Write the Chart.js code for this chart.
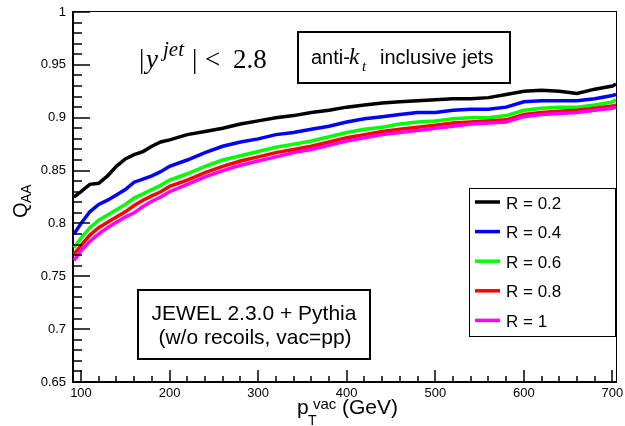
<!DOCTYPE html>
<html>
<head>
<meta charset="utf-8">
<script src="https://cdn.jsdelivr.net/npm/chart.js@4.4.1/dist/chart.umd.min.js"></script>
<style>
  html, body { margin: 0; padding: 0; background: #fff; }
  canvas { display: block; }
</style>
</head>
<body>
<canvas id="qaaChart" width="625" height="426"></canvas>
<script>
// pT^vac bin positions (GeV)
const ptBins = [92, 100, 110, 120, 130, 140, 150, 160, 170, 180, 190, 200,
  220, 240, 260, 280, 300, 320, 340, 360, 380, 400, 420, 440, 460, 480, 500,
  520, 540, 560, 580, 600, 620, 640, 660, 680, 700, 704];

// Q_AA per jet radius
const qR02 = [0.825, 0.830, 0.837, 0.838, 0.845, 0.854, 0.861, 0.865, 0.868, 0.873, 0.877, 0.879,
  0.884, 0.887, 0.890, 0.894, 0.897, 0.900, 0.902, 0.905, 0.907, 0.910, 0.912, 0.914, 0.915, 0.916, 0.917,
  0.918, 0.918, 0.919, 0.922, 0.925, 0.926, 0.925, 0.923, 0.927, 0.930, 0.932];
const qR04 = [0.790, 0.800, 0.811, 0.818, 0.822, 0.827, 0.832, 0.839, 0.842, 0.845, 0.849, 0.854,
  0.860, 0.867, 0.873, 0.877, 0.880, 0.884, 0.886, 0.889, 0.892, 0.896, 0.899, 0.901, 0.903, 0.905, 0.905,
  0.907, 0.908, 0.908, 0.910, 0.915, 0.916, 0.916, 0.916, 0.918, 0.921, 0.922];
const qR06 = [0.777, 0.786, 0.796, 0.803, 0.808, 0.813, 0.818, 0.824, 0.828, 0.832, 0.836, 0.841,
  0.847, 0.854, 0.860, 0.864, 0.868, 0.872, 0.875, 0.878, 0.882, 0.886, 0.889, 0.891, 0.894, 0.896, 0.897,
  0.899, 0.900, 0.900, 0.902, 0.907, 0.909, 0.910, 0.910, 0.912, 0.915, 0.917];
const qR08 = [0.771, 0.779, 0.789, 0.796, 0.801, 0.806, 0.811, 0.817, 0.822, 0.826, 0.830, 0.835,
  0.841, 0.848, 0.854, 0.859, 0.863, 0.867, 0.870, 0.873, 0.877, 0.881, 0.884, 0.887, 0.889, 0.891, 0.893,
  0.895, 0.896, 0.897, 0.898, 0.903, 0.905, 0.906, 0.907, 0.909, 0.911, 0.912];
const qR10 = [0.765, 0.774, 0.783, 0.790, 0.796, 0.801, 0.806, 0.810, 0.816, 0.821, 0.825, 0.830,
  0.837, 0.844, 0.850, 0.855, 0.859, 0.863, 0.867, 0.870, 0.874, 0.878, 0.881, 0.884, 0.886, 0.888, 0.890,
  0.892, 0.894, 0.895, 0.896, 0.901, 0.903, 0.904, 0.905, 0.907, 0.909, 0.910];

const seriesLabels = ['R = 0.2', 'R = 0.4', 'R = 0.6', 'R = 0.8', 'R = 1'];
const seriesColors = ['#000000', '#0000ff', '#00ff00', '#ff0000', '#ff00ff'];

const xTicks = [100, 200, 300, 400, 500, 600, 700];
const yTicks = [0.65, 0.7, 0.75, 0.8, 0.85, 0.9, 0.95, 1];
const yTickLabels = ['0.65', '0.7', '0.75', '0.8', '0.85', '0.9', '0.95', '1'];

const SANS = '"Liberation Sans", Arial, Helvetica, sans-serif';
const SERIF = '"Liberation Serif", "Times New Roman", serif';

function txt(ctx, s, x, y, font, align) {
    ctx.font = font;
    ctx.textAlign = align || 'left';
    ctx.textBaseline = 'alphabetic';
    ctx.fillText(s, x, y);
}

// ROOT-like frame: inward ticks, boxes, legend, axis titles
const rootDecor = {
    id: 'rootDecor',
    afterDraw(chart) {
        const { ctx, chartArea: a, scales: { x, y } } = chart;
        ctx.save();
        ctx.setLineDash([]);
        ctx.globalAlpha = 1;
        ctx.fillStyle = '#000';
        ctx.strokeStyle = '#000';

        // top and right frame
        ctx.fillRect(a.left, a.top - 1, a.right - a.left + 1, 1);
        ctx.fillRect(a.right, a.top - 1, 1, a.bottom - a.top + 1);

        // x ticks (major 100, minor 20)
        for (let v = 100; v <= 700; v += 20) {
            const px = Math.round(x.getPixelForValue(v));
            const len = v % 100 === 0 ? 12 : 6;
            ctx.fillRect(px - 0.75, a.bottom - len, 1.5, len);
        }
        // y ticks (major 0.05, minor 0.01)
        for (let k = 65; k <= 100; k++) {
            const py = Math.round(y.getPixelForValue(k / 100));
            const len = k % 5 === 0 ? 17 : 9;
            ctx.fillRect(a.left, py - 0.75, len, 1.5);
        }

        // |y^jet| < 2.8
        txt(ctx, '|', 139, 68, '27px ' + SERIF);
        txt(ctx, 'y', 146, 68, 'italic 27px ' + SERIF);
        txt(ctx, 'jet', 163, 56, 'italic 21px ' + SERIF);
        txt(ctx, '|', 192, 68, '27px ' + SERIF);
        txt(ctx, '<', 205, 68, '27px ' + SERIF);
        txt(ctx, '2.8', 233, 68, '27px ' + SERIF);

        // anti-kt box
        ctx.lineWidth = 2;
        ctx.fillStyle = '#fff';
        ctx.fillRect(298, 32, 212, 51);
        ctx.strokeRect(298, 32, 212, 51);
        ctx.fillStyle = '#000';
        txt(ctx, 'anti-', 311, 64, '20px ' + SANS);
        txt(ctx, 'k', 349, 64, 'italic 23px ' + SERIF);
        txt(ctx, 't', 362, 71, 'italic 15px ' + SERIF);
        txt(ctx, 'inclusive jets', 380, 64, '20px ' + SANS);

        // JEWEL box
        ctx.fillStyle = '#fff';
        ctx.fillRect(138, 290, 232, 69);
        ctx.strokeRect(138, 290, 232, 69);
        ctx.fillStyle = '#000';
        txt(ctx, 'JEWEL 2.3.0 + Pythia', 254, 320, '21px ' + SANS, 'center');
        txt(ctx, '(w/o recoils, vac=pp)', 255, 344, '21px ' + SANS, 'center');

        // legend
        ctx.lineWidth = 1;
        ctx.fillStyle = '#fff';
        ctx.fillRect(469.5, 188.5, 146, 148);
        ctx.strokeRect(469.5, 188.5, 146, 148);
        chart.data.datasets.forEach((ds, i) => {
            const base = 208.5 + i * 29.6;
            ctx.strokeStyle = ds.borderColor;
            ctx.lineWidth = 3.5;
            ctx.beginPath();
            ctx.moveTo(475, base - 6.5);
            ctx.lineTo(500, base - 6.5);
            ctx.stroke();
            ctx.fillStyle = '#000';
            txt(ctx, ds.label, 506, base, '17px ' + SANS);
        });

        // axis titles
        ctx.fillStyle = '#000';
        txt(ctx, 'p', 297, 414, '21px ' + SANS);
        txt(ctx, 'T', 308, 425, '14px ' + SANS);
        txt(ctx, 'vac', 313, 409, '15px ' + SANS);
        txt(ctx, '(GeV)', 342, 414, '21px ' + SANS);

        ctx.translate(27, 218);
        ctx.rotate(-Math.PI / 2);
        txt(ctx, 'Q', 0, 0, '20px ' + SANS);
        txt(ctx, 'AA', 15, 4, '14px ' + SANS);

        ctx.restore();
    }
};

new Chart(document.getElementById('qaaChart').getContext('2d'), {
    type: 'line',
    data: {
        datasets: [qR02, qR04, qR06, qR08, qR10].map((vals, i) => ({
            label: seriesLabels[i],
            data: ptBins.map((pt, j) => ({ x: pt, y: vals[j] })),
            borderColor: seriesColors[i],
            borderWidth: 3.5,
            pointRadius: 0,
            tension: 0,
            order: 5 - i
        }))
    },
    options: {
        responsive: false,
        animation: false,
        layout: { padding: { top: 12, right: 9, left: 0, bottom: 0 } },
        plugins: {
            legend: { display: false },
            tooltip: { enabled: false }
        },
        scales: {
            x: {
                type: 'linear',
                min: 91,
                max: 704,
                afterBuildTicks: s => { s.ticks = xTicks.map(v => ({ value: v })); },
                afterFit: s => { s.height = 44; s.paddingLeft = 0; s.paddingRight = 0; },
                grid: { display: false, drawTicks: false },
                border: { display: true, color: '#000', width: 2 },
                ticks: {
                    padding: 4,
                    color: '#000',
                    maxRotation: 0,
                    font: { family: SANS, size: 13 },
                    callback: v => String(v)
                }
            },
            y: {
                type: 'linear',
                min: 0.65,
                max: 1,
                afterBuildTicks: s => { s.ticks = yTicks.map(v => ({ value: v })); },
                afterFit: s => { s.width = 73; s.paddingTop = 0; s.paddingBottom = 0; },
                grid: { display: false, drawTicks: false },
                border: { display: true, color: '#000', width: 2 },
                ticks: {
                    padding: 7,
                    color: '#000',
                    font: { family: SANS, size: 13 },
                    callback: (v, i) => yTickLabels[i]
                }
            }
        }
    },
    plugins: [rootDecor]
});
</script>
</body>
</html>
